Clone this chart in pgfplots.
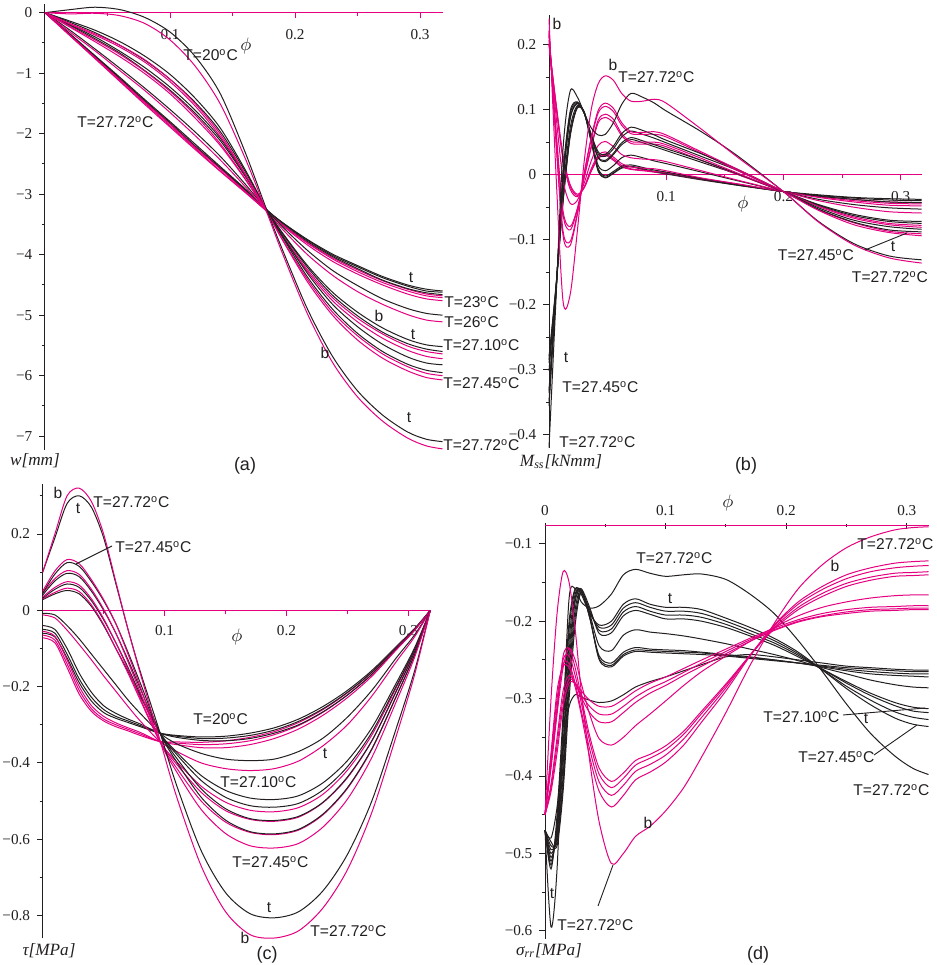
\documentclass[border=0pt]{standalone}
\usepackage{fontspec}
\setmainfont{Liberation Sans}
\newfontfamily\serif{Liberation Serif}
\usepackage{pgfplots}
\usepackage{pgfplotstable}
\pgfplotsset{compat=1.18}

\definecolor{ink}{RGB}{35,31,32}
\definecolor{mg}{RGB}{228,0,127}

\newcommand{\tickfont}{\serif\fontsize{7.6}{8}\selectfont}
\newcommand{\annfont}{\fontsize{7.8}{9}\selectfont}
\newcommand{\Tc}[1]{T=#1\textsuperscript{o}C}
\newcommand{\phin}{\fontsize{9.5}{10}\selectfont$\phi$}

% ---------- (a) deflection w [mm]; one row per curve ----------
\pgfplotstableread{
name c0 c1 c2 c3 c4 c5 c6 c7 c8 c9 c10 c11 c12 c13 c14 c15 c16 c17
x  0 0.02 0.04 0.06 0.08 0.10 0.12 0.14 0.16 0.1774 0.19 0.21 0.23 0.25 0.27 0.29 0.305 0.318
b0 0 -0.36 -0.73 -1.10 -1.47 -1.84 -2.21 -2.57 -2.93 -3.26 -3.47 -3.75 -3.99 -4.18 -4.36 -4.50 -4.57 -4.60
b1 0 -0.36 -0.72 -1.09 -1.46 -1.82 -2.20 -2.56 -2.92 -3.26 -3.47 -3.76 -4.01 -4.20 -4.38 -4.52 -4.60 -4.62
b2 0 -0.35 -0.71 -1.07 -1.44 -1.80 -2.17 -2.54 -2.91 -3.26 -3.48 -3.78 -4.03 -4.23 -4.42 -4.56 -4.63 -4.66
b3 0 -0.29 -0.60 -0.92 -1.25 -1.60 -1.97 -2.37 -2.83 -3.26 -3.54 -3.93 -4.26 -4.51 -4.73 -4.89 -4.97 -5.00
b4 0 -0.21 -0.43 -0.67 -0.96 -1.28 -1.66 -2.11 -2.70 -3.26 -3.64 -4.18 -4.62 -4.95 -5.21 -5.40 -5.49 -5.52
b5 0 -0.20 -0.40 -0.64 -0.91 -1.23 -1.61 -2.07 -2.68 -3.26 -3.65 -4.21 -4.67 -5.01 -5.28 -5.47 -5.56 -5.60
b6 0 -0.16 -0.33 -0.54 -0.79 -1.10 -1.48 -1.96 -2.62 -3.26 -3.69 -4.31 -4.82 -5.19 -5.48 -5.69 -5.79 -5.82
b7 0 -0.14 -0.29 -0.48 -0.72 -1.02 -1.41 -1.90 -2.59 -3.26 -3.71 -4.37 -4.90 -5.30 -5.60 -5.81 -5.91 -5.95
b8 0 0.05 0.09 0.05 -0.08 -0.32 -0.72 -1.33 -2.30 -3.26 -3.92 -4.90 -5.68 -6.25 -6.65 -6.93 -7.05 -7.09
m0 0 -0.38 -0.76 -1.14 -1.52 -1.89 -2.26 -2.62 -2.97 -3.28 -3.50 -3.80 -4.05 -4.25 -4.43 -4.57 -4.65 -4.68
m1 0 -0.38 -0.75 -1.13 -1.50 -1.87 -2.24 -2.61 -2.96 -3.28 -3.51 -3.81 -4.07 -4.28 -4.46 -4.60 -4.68 -4.71
m2 0 -0.37 -0.74 -1.11 -1.48 -1.84 -2.22 -2.58 -2.95 -3.28 -3.52 -3.84 -4.11 -4.32 -4.50 -4.65 -4.73 -4.76
m3 0 -0.32 -0.63 -0.96 -1.29 -1.65 -2.03 -2.43 -2.87 -3.28 -3.58 -4.00 -4.34 -4.61 -4.82 -4.99 -5.08 -5.11
m4 0 -0.24 -0.48 -0.73 -1.01 -1.34 -1.74 -2.19 -2.75 -3.29 -3.68 -4.25 -4.71 -5.05 -5.31 -5.51 -5.60 -5.64
m5 0 -0.23 -0.45 -0.69 -0.97 -1.30 -1.69 -2.16 -2.74 -3.29 -3.70 -4.28 -4.76 -5.11 -5.38 -5.58 -5.68 -5.72
m6 0 -0.19 -0.37 -0.57 -0.82 -1.14 -1.54 -2.04 -2.67 -3.29 -3.75 -4.41 -4.95 -5.34 -5.64 -5.85 -5.96 -6.00
m7 0 -0.18 -0.35 -0.54 -0.78 -1.10 -1.50 -2.00 -2.66 -3.29 -3.76 -4.45 -5.00 -5.41 -5.71 -5.92 -6.03 -6.07
m8 0 -0.02 -0.01 -0.05 -0.18 -0.45 -0.88 -1.50 -2.40 -3.30 -3.98 -4.98 -5.78 -6.35 -6.75 -7.03 -7.16 -7.21
}\rawA
\pgfplotstabletranspose[colnames from=name]{\dataA}{\rawA}

% ---------- (b) moment M_ss [kNmm] ----------
\pgfplotstableread{
name c0 c1 c2 c3 c4 c5 c6 c7 c8 c9 c10 c11 c12 c13 c14 c15 c16 c17 c18 c19 c20 c21
x  0 0.006 0.012 0.018 0.024 0.03 0.036 0.042 0.048 0.055 0.062 0.07 0.08 0.09 0.1 0.13 0.16 0.2 0.23 0.26 0.29 0.318
b0 -0.28 -0.17 -0.04 0.06 0.103 0.095 0.05 0.005 -0.005 0.002 0.01 0.012 0.008 0.004 0.001 -0.008 -0.016 -0.026 -0.031 -0.035 -0.037 -0.038
b1 -0.285 -0.172 -0.042 0.058 0.102 0.096 0.052 0.007 -0.004 0.003 0.011 0.013 0.009 0.005 0.002 -0.007 -0.016 -0.026 -0.032 -0.036 -0.039 -0.040
b2 -0.29 -0.175 -0.038 0.062 0.104 0.097 0.053 0.009 -0.002 0.005 0.013 0.015 0.011 0.007 0.004 -0.006 -0.015 -0.026 -0.033 -0.038 -0.042 -0.043
b3 -0.302 -0.173 -0.027 0.071 0.106 0.095 0.054 0.014 0.006 0.014 0.026 0.030 0.026 0.021 0.017 0.004 -0.009 -0.026 -0.038 -0.046 -0.051 -0.053
b4 -0.332 -0.177 -0.010 0.085 0.109 0.095 0.058 0.026 0.020 0.031 0.046 0.054 0.049 0.043 0.037 0.019 0.001 -0.026 -0.046 -0.061 -0.070 -0.072
b5 -0.336 -0.178 -0.008 0.087 0.110 0.095 0.059 0.027 0.022 0.033 0.049 0.057 0.052 0.046 0.040 0.022 0.002 -0.026 -0.047 -0.063 -0.072 -0.075
b6 -0.349 -0.180 -0.001 0.093 0.111 0.095 0.061 0.032 0.028 0.040 0.058 0.067 0.062 0.056 0.049 0.028 0.007 -0.026 -0.051 -0.070 -0.080 -0.084
b7 -0.356 -0.181 0.003 0.097 0.112 0.095 0.062 0.035 0.031 0.044 0.063 0.073 0.068 0.061 0.053 0.032 0.009 -0.026 -0.053 -0.073 -0.085 -0.088
b8 -0.42 -0.19 0.04 0.128 0.12 0.095 0.072 0.061 0.062 0.08 0.108 0.125 0.119 0.11 0.098 0.066 0.03 -0.026 -0.072 -0.106 -0.125 -0.131
m0 0.20 0.11 0.03 -0.015 -0.03 -0.02 0.005 0.025 0.03 0.022 0.012 0.008 0.006 0.004 0.002 -0.007 -0.015 -0.026 -0.033 -0.038 -0.042 -0.043
m1 0.201 0.108 0.026 -0.018 -0.032 -0.020 0.006 0.027 0.032 0.024 0.014 0.009 0.007 0.005 0.003 -0.006 -0.014 -0.026 -0.034 -0.040 -0.044 -0.045
m2 0.202 0.105 0.022 -0.022 -0.034 -0.019 0.009 0.030 0.035 0.027 0.017 0.012 0.010 0.009 0.006 -0.005 -0.014 -0.026 -0.035 -0.042 -0.047 -0.048
m3 0.207 0.091 -0.008 -0.044 -0.040 -0.013 0.021 0.045 0.051 0.043 0.031 0.026 0.024 0.023 0.020 0.006 -0.008 -0.026 -0.040 -0.050 -0.057 -0.059
m4 0.215 0.068 -0.056 -0.080 -0.053 -0.005 0.041 0.080 0.088 0.080 0.060 0.048 0.047 0.047 0.043 0.022 0.001 -0.026 -0.048 -0.065 -0.075 -0.078
m5 0.216 0.065 -0.062 -0.085 -0.055 -0.004 0.044 0.084 0.093 0.085 0.063 0.051 0.050 0.050 0.046 0.025 0.003 -0.026 -0.049 -0.067 -0.077 -0.081
m6 0.221 0.053 -0.087 -0.103 -0.061 0.001 0.054 0.095 0.105 0.097 0.076 0.063 0.062 0.062 0.058 0.033 0.007 -0.026 -0.054 -0.074 -0.087 -0.091
m7 0.222 0.049 -0.094 -0.109 -0.063 0.002 0.057 0.099 0.110 0.102 0.080 0.066 0.065 0.066 0.061 0.035 0.009 -0.026 -0.055 -0.077 -0.089 -0.094
m8 0.24 0.0 -0.195 -0.185 -0.09 0.02 0.10 0.14 0.152 0.145 0.125 0.113 0.113 0.116 0.11 0.07 0.028 -0.026 -0.073 -0.108 -0.128 -0.136
}\rawB
\pgfplotstabletranspose[colnames from=name]{\dataB}{\rawB}

% ---------- (c) shear stress tau [MPa] ----------
\pgfplotstableread{
name c0 c1 c2 c3 c4 c5 c6 c7 c8 c9 c10 c11 c12 c13 c14 c15 c16 c17 c18 c19 c20 c21
x  0 0.01 0.02 0.03 0.04 0.05 0.06 0.07 0.08 0.0962 0.11 0.13 0.15 0.17 0.19 0.21 0.23 0.25 0.27 0.29 0.305 0.318
b0 -0.06 -0.07 -0.125 -0.19 -0.238 -0.268 -0.283 -0.294 -0.305 -0.322 -0.328 -0.332 -0.33 -0.322 -0.308 -0.285 -0.252 -0.21 -0.158 -0.095 -0.048 0
b1 -0.05 -0.06 -0.115 -0.18 -0.228 -0.26 -0.278 -0.29 -0.302 -0.322 -0.33 -0.336 -0.335 -0.328 -0.314 -0.291 -0.258 -0.215 -0.162 -0.098 -0.05 0
b2 -0.04 -0.05 -0.10 -0.165 -0.215 -0.25 -0.27 -0.285 -0.298 -0.322 -0.333 -0.341 -0.342 -0.336 -0.322 -0.30 -0.266 -0.222 -0.168 -0.102 -0.052 0
b3 -0.008 -0.012 -0.04 -0.075 -0.115 -0.155 -0.195 -0.235 -0.27 -0.322 -0.35 -0.375 -0.39 -0.394 -0.39 -0.37 -0.335 -0.28 -0.21 -0.125 -0.065 0
b4 0.028 0.043 0.052 0.043 0.01 -0.04 -0.10 -0.16 -0.225 -0.322 -0.372 -0.433 -0.472 -0.492 -0.496 -0.486 -0.452 -0.394 -0.308 -0.191 -0.099 0
b5 0.032 0.055 0.069 0.06 0.025 -0.025 -0.085 -0.15 -0.22 -0.322 -0.378 -0.446 -0.49 -0.512 -0.516 -0.506 -0.471 -0.41 -0.32 -0.199 -0.103 0
b6 0.04 0.077 0.097 0.088 0.05 0.0 -0.06 -0.13 -0.205 -0.322 -0.388 -0.468 -0.52 -0.546 -0.551 -0.54 -0.503 -0.437 -0.342 -0.212 -0.110 0
b7 0.045 0.095 0.125 0.115 0.075 0.025 -0.035 -0.11 -0.19 -0.322 -0.398 -0.49 -0.55 -0.58 -0.586 -0.574 -0.534 -0.465 -0.363 -0.226 -0.117 0
b8 0.10 0.19 0.28 0.30 0.27 0.19 0.07 -0.05 -0.16 -0.32 -0.46 -0.63 -0.74 -0.795 -0.806 -0.79 -0.735 -0.64 -0.50 -0.31 -0.16 0
m0 -0.072 -0.085 -0.15 -0.22 -0.265 -0.29 -0.305 -0.316 -0.328 -0.344 -0.345 -0.346 -0.342 -0.333 -0.318 -0.294 -0.26 -0.216 -0.163 -0.098 -0.05 0
m1 -0.065 -0.078 -0.14 -0.21 -0.258 -0.285 -0.30 -0.312 -0.324 -0.344 -0.348 -0.352 -0.35 -0.342 -0.326 -0.302 -0.267 -0.222 -0.168 -0.101 -0.052 0
m2 -0.055 -0.068 -0.13 -0.2 -0.25 -0.278 -0.295 -0.308 -0.32 -0.344 -0.352 -0.36 -0.36 -0.352 -0.336 -0.311 -0.275 -0.229 -0.173 -0.104 -0.053 0
m3 -0.012 -0.02 -0.052 -0.09 -0.13 -0.172 -0.212 -0.252 -0.29 -0.344 -0.37 -0.40 -0.415 -0.42 -0.415 -0.395 -0.355 -0.30 -0.225 -0.135 -0.07 0
m4 0.03 0.047 0.058 0.049 0.014 -0.037 -0.10 -0.165 -0.235 -0.344 -0.397 -0.461 -0.503 -0.524 -0.528 -0.517 -0.482 -0.419 -0.327 -0.203 -0.105 0
m5 0.035 0.06 0.075 0.066 0.03 -0.022 -0.085 -0.155 -0.23 -0.344 -0.404 -0.477 -0.525 -0.548 -0.553 -0.542 -0.504 -0.439 -0.343 -0.213 -0.11 0
m6 0.045 0.083 0.104 0.094 0.055 0.003 -0.06 -0.135 -0.215 -0.344 -0.414 -0.50 -0.555 -0.582 -0.588 -0.576 -0.536 -0.467 -0.365 -0.226 -0.117 0
m7 0.05 0.103 0.133 0.122 0.08 0.028 -0.035 -0.115 -0.20 -0.344 -0.424 -0.522 -0.585 -0.617 -0.623 -0.611 -0.568 -0.495 -0.386 -0.24 -0.124 0
m8 0.10 0.20 0.30 0.32 0.285 0.20 0.075 -0.05 -0.165 -0.34 -0.49 -0.67 -0.79 -0.85 -0.859 -0.84 -0.78 -0.68 -0.53 -0.33 -0.17 0
}\rawC
\pgfplotstabletranspose[colnames from=name]{\dataC}{\rawC}

% ---------- (d) radial stress sigma_rr [MPa] ----------
\pgfplotstableread{
name c0 c1 c2 c3 c4 c5 c6 c7 c8 c9 c10 c11 c12 c13 c14 c15 c16 c17 c18 c19 c20 c21 c22 c23 c24 c25
x   0 0.005 0.01 0.015 0.02 0.025 0.03 0.037 0.045 0.055 0.065 0.075 0.087 0.1 0.115 0.13 0.15 0.17 0.19 0.21 0.23 0.25 0.27 0.29 0.305 0.318
k1  -0.47 -0.48 -0.44 -0.36 -0.31 -0.295 -0.298 -0.302 -0.305 -0.303 -0.295 -0.285 -0.278 -0.272 -0.264 -0.256 -0.246 -0.243 -0.246 -0.25 -0.254 -0.258 -0.26 -0.262 -0.263 -0.263
k2  -0.47 -0.485 -0.49 -0.42 -0.30 -0.205 -0.163 -0.193 -0.25 -0.259 -0.245 -0.239 -0.24 -0.241 -0.242 -0.243 -0.245 -0.248 -0.251 -0.254 -0.257 -0.26 -0.262 -0.264 -0.265 -0.265
k3  -0.47 -0.49 -0.485 -0.41 -0.285 -0.195 -0.162 -0.195 -0.248 -0.257 -0.243 -0.237 -0.238 -0.239 -0.24 -0.241 -0.244 -0.247 -0.25 -0.254 -0.258 -0.262 -0.265 -0.267 -0.268 -0.268
k4  -0.47 -0.495 -0.48 -0.40 -0.27 -0.185 -0.16 -0.195 -0.245 -0.254 -0.24 -0.234 -0.236 -0.237 -0.238 -0.24 -0.243 -0.246 -0.25 -0.254 -0.259 -0.264 -0.268 -0.27 -0.271 -0.272
k5  -0.47 -0.50 -0.475 -0.385 -0.255 -0.175 -0.16 -0.19 -0.232 -0.238 -0.218 -0.211 -0.214 -0.216 -0.219 -0.223 -0.229 -0.236 -0.243 -0.251 -0.26 -0.268 -0.276 -0.282 -0.285 -0.286
k6  -0.47 -0.505 -0.47 -0.37 -0.24 -0.17 -0.158 -0.182 -0.216 -0.215 -0.193 -0.186 -0.191 -0.197 -0.197 -0.2 -0.208 -0.219 -0.231 -0.246 -0.262 -0.278 -0.293 -0.305 -0.311 -0.313
k7  -0.47 -0.51 -0.465 -0.36 -0.225 -0.165 -0.16 -0.185 -0.212 -0.21 -0.188 -0.181 -0.187 -0.192 -0.192 -0.195 -0.204 -0.216 -0.228 -0.244 -0.262 -0.28 -0.296 -0.309 -0.316 -0.318
k8  -0.47 -0.515 -0.46 -0.34 -0.21 -0.16 -0.162 -0.188 -0.208 -0.205 -0.183 -0.176 -0.182 -0.187 -0.187 -0.19 -0.2 -0.212 -0.225 -0.242 -0.263 -0.284 -0.302 -0.317 -0.324 -0.327
k9  -0.47 -0.52 -0.45 -0.32 -0.20 -0.158 -0.165 -0.19 -0.205 -0.2 -0.178 -0.171 -0.178 -0.182 -0.182 -0.185 -0.196 -0.208 -0.222 -0.24 -0.263 -0.287 -0.308 -0.325 -0.333 -0.336
k10 -0.47 -0.595 -0.52 -0.33 -0.17 -0.158 -0.175 -0.183 -0.18 -0.165 -0.14 -0.133 -0.138 -0.142 -0.14 -0.139 -0.146 -0.165 -0.19 -0.225 -0.265 -0.307 -0.345 -0.374 -0.39 -0.398
n1  -0.45 -0.42 -0.37 -0.31 -0.28 -0.28 -0.29 -0.302 -0.31 -0.31 -0.301 -0.29 -0.28 -0.272 -0.261 -0.25 -0.236 -0.222 -0.209 -0.198 -0.19 -0.185 -0.182 -0.181 -0.18 -0.18
n2  -0.45 -0.415 -0.36 -0.30 -0.275 -0.28 -0.295 -0.31 -0.32 -0.32 -0.31 -0.298 -0.287 -0.278 -0.266 -0.254 -0.239 -0.224 -0.211 -0.2 -0.193 -0.188 -0.185 -0.184 -0.183 -0.183
n3  -0.45 -0.41 -0.35 -0.29 -0.27 -0.28 -0.298 -0.318 -0.33 -0.33 -0.318 -0.305 -0.293 -0.283 -0.27 -0.258 -0.242 -0.226 -0.212 -0.201 -0.194 -0.19 -0.187 -0.186 -0.185 -0.185
n4  -0.45 -0.39 -0.32 -0.26 -0.235 -0.25 -0.28 -0.32 -0.352 -0.36 -0.35 -0.335 -0.32 -0.303 -0.283 -0.265 -0.245 -0.226 -0.208 -0.193 -0.182 -0.175 -0.17 -0.167 -0.166 -0.166
n5  -0.45 -0.385 -0.315 -0.245 -0.235 -0.26 -0.297 -0.348 -0.39 -0.407 -0.396 -0.38 -0.372 -0.361 -0.342 -0.316 -0.281 -0.244 -0.21 -0.185 -0.168 -0.155 -0.147 -0.142 -0.141 -0.14
n6  -0.45 -0.38 -0.31 -0.25 -0.245 -0.27 -0.305 -0.355 -0.398 -0.415 -0.403 -0.386 -0.377 -0.366 -0.346 -0.319 -0.283 -0.244 -0.208 -0.182 -0.164 -0.151 -0.143 -0.138 -0.137 -0.136
n7  -0.45 -0.375 -0.30 -0.255 -0.255 -0.28 -0.315 -0.365 -0.408 -0.425 -0.412 -0.394 -0.385 -0.373 -0.352 -0.324 -0.286 -0.244 -0.206 -0.178 -0.159 -0.145 -0.136 -0.131 -0.129 -0.128
n8  -0.45 -0.37 -0.29 -0.258 -0.26 -0.285 -0.32 -0.375 -0.42 -0.44 -0.425 -0.405 -0.395 -0.382 -0.36 -0.33 -0.29 -0.245 -0.205 -0.175 -0.155 -0.14 -0.131 -0.125 -0.123 -0.122
n9  -0.45 -0.30 -0.19 -0.136 -0.15 -0.21 -0.29 -0.38 -0.46 -0.513 -0.50 -0.478 -0.465 -0.445 -0.415 -0.375 -0.318 -0.257 -0.203 -0.158 -0.127 -0.105 -0.091 -0.082 -0.079 -0.078
}\rawD
\pgfplotstabletranspose[colnames from=name]{\dataD}{\rawD}

\pgfplotsset{
  panel/.style={
    scale only axis, clip=false, anchor=south west,
    axis x line=middle, axis y line=left,
    every inner x axis line/.append style={-},
    x axis line style={-, draw=mg, line width=0.5pt},
    y axis line style={-, draw=ink, line width=0.5pt},
    tick align=outside,
    major tick length=2.8pt, minor tick length=1.6pt,
    xtick style={draw=mg, line width=0.45pt},
    ytick style={draw=ink, line width=0.45pt},
    ticklabel style={font=\tickfont, text=ink},
    xmin=0, xmax=0.318,
    minor xtick={0.05,0.15,0.25},
  },
  bl/.style={smooth, ink, line width=0.5pt},
  mgc/.style={smooth, mg, line width=0.5pt},
}

\begin{document}
\begin{tikzpicture}
\useasboundingbox (0,0) rectangle (468.5pt,482.5pt);

% (a)
\begin{axis}[panel, at={(22.5pt,257.45pt)}, width=198.75pt, height=223.25pt,
  x axis line style={-}, xticklabel style={yshift=-2pt},
  ymin=-7.23, ymax=0.15,
  xtick={0.1,0.2,0.3}, xticklabels={0.1,0.2,0.3},
  ytick={-7,-6,-5,-4,-3,-2,-1,0}, yticklabels={−7,−6,−5,−4,−3,−2,−1,0},
  minor ytick={-6.5,-5.5,-4.5,-3.5,-2.5,-1.5,-0.5}]
\pgfplotsinvokeforeach{0,...,8}{
  \addplot[bl] table[x=x,y=b#1]{\dataA};
  \addplot[mgc] table[x=x,y=m#1]{\dataA};
}
\end{axis}

% (b)
\begin{axis}[panel, at={(274.5pt,258.65pt)}, width=186.35pt, height=216.15pt,
  x axis line style={-}, xticklabel style={yshift=-2pt},
  ymin=-0.42, ymax=0.245,
  xtick={0.1,0.2,0.3}, xticklabels={0.1,0.2,0.3},
  ytick={-0.4,-0.3,-0.2,-0.1,0,0.1,0.2}, yticklabels={−0.4,−0.3,−0.2,−0.1,0,0.1,0.2},
  minor ytick={-0.35,-0.25,-0.15,-0.05,0.05,0.15}]
\pgfplotsinvokeforeach{0,...,8}{
  \addplot[bl] table[x=x,y=b#1]{\dataB};
  \addplot[mgc] table[x=x,y=m#1]{\dataB};
}
\end{axis}

% (c)
\begin{axis}[panel, at={(21.35pt,13.3pt)}, width=193.8pt, height=227pt,
  x axis line style={-}, xticklabel style={yshift=-1pt},
  ymin=-0.86, ymax=0.33,
  xtick={0.1,0.2,0.3}, xticklabels={0.1,0.2,0.3},
  ytick={-0.8,-0.6,-0.4,-0.2,0,0.2}, yticklabels={−0.8,−0.6,−0.4,−0.2,0,0.2},
  minor ytick={-0.7,-0.5,-0.3,-0.1,0.1,0.3}]
\pgfplotsinvokeforeach{0,...,8}{
  \addplot[bl] table[x=x,y=b#1]{\dataC};
  \addplot[mgc] table[x=x,y=m#1]{\dataC};
}
\end{axis}

% (d)
\begin{axis}[panel, at={(272.5pt,13.2pt)}, width=191.75pt, height=206.4pt,
  axis x line=top, x axis line style={-},
  ymin=-0.61, ymax=-0.0767,
  xtick style={draw=ink, line width=0.45pt},
  xtick={0,0.1,0.2,0.3}, xticklabels={0,0.1,0.2,0.3},
  ytick={-0.6,-0.5,-0.4,-0.3,-0.2,-0.1}, yticklabels={−0.6,−0.5,−0.4,−0.3,−0.2,−0.1},
  minor ytick={-0.55,-0.45,-0.35,-0.25,-0.15}]
\pgfplotsinvokeforeach{1,...,10}{
  \addplot[bl] table[x=x,y=k#1]{\dataD};
}
\pgfplotsinvokeforeach{1,...,9}{
  \addplot[mgc] table[x=x,y=n#1]{\dataD};
}
\end{axis}

% annotations, positioned from the top-left corner
\begin{scope}[x=0.5pt, y=-0.5pt, shift={(0pt,482.5pt)}, color=ink,
  every node/.style={inner sep=0pt, font=\annfont}, line width=0.45pt]
% (a)
\node[anchor=west] at (183,55) {\Tc{20}};
\node at (246,46) {\phin};
\node[anchor=west] at (77,122) {\Tc{27.72}};
\node at (411,278) {t};
\node[anchor=west] at (444,302) {\Tc{23}};
\node at (379,316) {b};
\node[anchor=west] at (444,322) {\Tc{26}};
\node at (413,335) {t};
\node[anchor=west] at (443,345) {\Tc{27.10}};
\node at (325,353) {b};
\node[anchor=west] at (443,383) {\Tc{27.45}};
\node at (409,418) {t};
\node[anchor=west] at (443,445) {\Tc{27.72}};
\node at (35,461) {\serif\itshape\fontsize{8.6}{10}\selectfont w[mm]};
\node at (245,466) {\fontsize{9}{10}\selectfont (a)};
% (b)
\node at (557,24) {b};
\node at (613,65) {b};
\node[anchor=west] at (618,77) {\Tc{27.72}};
\node at (743,204) {\phin};
\node at (816,255) {\Tc{27.45}};
\node at (893,247) {t};
\draw (865,250) -- (907,233);
\node at (890,277) {\Tc{27.72}};
\node at (566,358) {t};
\node[anchor=west] at (562,387) {\Tc{27.45}};
\node[anchor=west] at (559,442) {\Tc{27.72}};
\node at (561,462) {\serif\itshape\fontsize{8.6}{10}\selectfont M\textsubscript{ss}[kNmm]};
\node at (746,466) {\fontsize{9}{10}\selectfont (b)};
% (c)
\node at (58,493) {b};
\node at (78,509) {t};
\node[anchor=west] at (93,502) {\Tc{27.72}};
\node[anchor=west] at (115,547) {\Tc{27.45}};
\draw (112,546) -- (76,564);
\node at (237,637) {\phin};
\node[anchor=west] at (193,719) {\Tc{20}};
\node at (325,754) {t};
\node[anchor=west] at (220,782) {\Tc{27.10}};
\node[anchor=west] at (232,862) {\Tc{27.45}};
\node at (269,908) {t};
\node[anchor=west] at (310,931) {\Tc{27.72}};
\node at (245,938) {b};
\node at (49,951) {\serif\itshape\fontsize{8.6}{10}\selectfont τ[MPa]};
\node at (267,955) {\fontsize{9}{10}\selectfont (c)};
% (d)
\node at (728,503) {\phin};
\node[anchor=west] at (857,544) {\Tc{27.72}};
\node[anchor=west] at (636,558) {\Tc{27.72}};
\node at (835,566) {b};
\node at (670,599) {t};
\node[anchor=west] at (763,717) {\Tc{27.10}};
\draw (843,715) -- (925,708);
\node at (866,719) {t};
\node[anchor=west] at (798,757) {\Tc{27.45}};
\draw (874,755) -- (917,725);
\node[anchor=west] at (853,790) {\Tc{27.72}};
\node at (648,823) {b};
\node at (552,894) {t};
\node[anchor=west] at (557,925) {\Tc{27.72}};
\draw (598,906) -- (613,865);
\node at (549,951) {\serif\itshape\fontsize{8.6}{10}\selectfont σ\textsubscript{rr}[MPa]};
\node at (758,955) {\fontsize{9}{10}\selectfont (d)};
\end{scope}
\end{tikzpicture}
\end{document}
